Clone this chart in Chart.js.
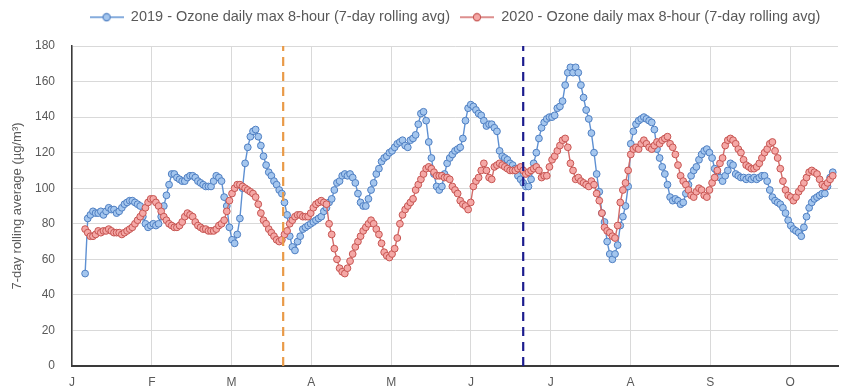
<!DOCTYPE html>
<html>
<head>
<meta charset="utf-8">
<script src="https://cdn.jsdelivr.net/npm/chart.js@4.4.1/dist/chart.umd.min.js"></script>
<style>
html,body{margin:0;padding:0;background:#ffffff;}
#c{display:block;}
</style>
</head>
<body>
<canvas id="c" width="844" height="391"></canvas>
<script>
// ---------- DATA ----------
const seriesNames = [
  '2019 - Ozone daily max 8-hour (7-day rolling avg)',
  '2020 - Ozone daily max 8-hour (7-day rolling avg)'
];
const yAxisTitle = '7-day rolling average (\u00B5g/m\u00B3)';
const monthLabels = ['J','F','M','A','M','J','J','A','S','O'];
const firstDay = 5;            // day-of-year index (Jan 1 = 0) of first value
const eventDays = [80.5, 172]; // dashed reference lines (orange, navy)

const ozone2019 = [
  52,83,85,87,86,86,87,85,87,89,
  88,88,86,87,89,91,92,93,93,92,
  91,90,84,80,78,79,80,79,80,84,
  90,96,102,108,108,106,105,104,104,106,
  107,107,106,104,103,102,101,101,101,104,
  107,106,104,95,90,78,71,69,74,83,
  100,114,123,129,132,133,129,124,118,113,
  109,107,104,102,99,97,92,85,73,67,
  65,70,73,77,78,79,80,81,82,83,
  84,87,89,92,94,99,103,104,107,108,
  107,108,106,103,97,92,90,90,94,99,
  103,108,111,115,117,118,120,121,123,125,
  126,127,124,123,127,128,130,136,142,143,
  138,126,117,108,101,99,101,108,114,117,
  119,121,122,123,128,138,145,147,146,144,
  142,141,138,135,136,136,134,132,121,118,
  117,116,114,113,111,107,105,103,101,101,
  105,114,120,128,134,137,139,140,140,141,
  145,146,149,158,165,168,165,168,165,158,
  151,144,139,131,120,108,98,86,81,70,
  63,60,63,68,79,84,90,101,125,132,
  136,138,139,140,139,138,137,133,122,117,
  112,108,102,95,93,94,93,91,92,97,
  102,107,110,112,116,119,121,122,120,117,
  111,109,106,104,107,110,114,113,108,107,
  106,106,105,106,105,106,105,106,107,107,
  104,99,95,93,92,91,89,86,82,79,
  77,76,75,73,78,84,89,92,94,95,
  96,97,97,101,106,109
];

const ozone2020 = [
  77,75,73,73,74,76,75,76,76,77,
  76,75,75,75,74,75,76,77,78,80,
  82,84,86,89,92,94,94,92,90,87,
  84,82,80,79,78,78,79,81,84,86,
  85,84,81,79,78,77,77,76,76,76,
  77,79,80,82,87,93,97,100,102,102,
  101,100,99,98,97,95,91,86,82,80,
  77,75,73,71,70,71,74,76,80,82,
  84,85,85,84,84,84,86,89,91,92,
  93,92,91,80,74,66,60,55,53,52,
  55,59,63,67,70,73,76,78,80,82,
  80,77,74,69,64,62,61,63,66,72,
  80,85,88,90,92,94,99,102,105,108,
  111,112,111,109,107,107,107,106,106,105,
  101,99,97,93,91,90,88,92,101,104,
  106,110,114,110,106,105,112,113,114,113,
  112,111,110,110,110,111,112,110,108,109,
  110,111,112,110,106,107,107,112,116,118,
  121,124,127,128,123,114,110,105,106,104,
  103,102,101,104,102,97,93,86,78,76,
  75,73,72,79,92,99,103,110,119,122,
  123,122,125,127,125,123,122,124,126,125,
  127,128,129,125,123,119,113,107,104,102,
  99,96,95,98,100,99,96,95,99,103,
  106,110,114,117,124,127,128,127,125,122,
  120,116,113,112,111,111,112,114,117,120,
  122,125,126,121,117,111,104,99,96,95,
  93,95,98,100,103,106,109,110,109,108,
  105,102,101,103,105,107
];

// ---------- STYLE ----------
const FONT = '"Liberation Sans", Arial, sans-serif';
const TXT = '#595959';
const BLUE_LINE = '#5E90D2', BLUE_FILL = '#A4C6EE', BLUE_EDGE = '#4F7FC2';
const RED_LINE = '#D26A68', RED_FILL = '#F5A8A6', RED_EDGE = '#C65552';
const ORANGE = '#E99A48', NAVY = '#1C1C8E';

Chart.defaults.font.family = FONT;
Chart.defaults.color = TXT;

function toPoints(arr) { return arr.map((v, i) => ({ x: firstDay + i, y: v })); }

function legendIcon(line, fill, edge) {
  const c = document.createElement('canvas');
  c.width = 34; c.height = 10;
  const g = c.getContext('2d');
  g.strokeStyle = line; g.lineWidth = 1.6;
  g.beginPath(); g.moveTo(0, 5); g.lineTo(34, 5); g.stroke();
  g.beginPath(); g.arc(17, 5, 3.6, 0, Math.PI * 2);
  g.fillStyle = fill; g.fill();
  g.lineWidth = 1.1; g.strokeStyle = edge; g.stroke();
  return c;
}
const icons = [legendIcon(BLUE_LINE, BLUE_FILL, BLUE_EDGE), legendIcon(RED_LINE, RED_FILL, RED_EDGE)];

const legendSpacer = {
  id: 'legendSpacer',
  beforeInit(chart) {
    const lg = chart.legend;
    const orig = lg.fit;
    lg.fit = function () { orig.call(this); this.height = 46; };
  }
};

function eventLine(day, color) {
  return {
    type: 'line',
    data: [{ x: day, y: 0 }, { x: day, y: 180 }],
    borderColor: color, borderWidth: 2.2, borderDash: [9, 6],
    pointRadius: 0, pointHoverRadius: 0, fill: false, order: 0
  };
}

new Chart(document.getElementById('c'), {
  type: 'line',
  data: {
    datasets: [
      {
        label: seriesNames[0], data: toPoints(ozone2019),
        borderColor: BLUE_LINE, borderWidth: 1.4,
        pointRadius: 3.4, pointBorderWidth: 1, pointBackgroundColor: BLUE_FILL, pointBorderColor: BLUE_EDGE,
        tension: 0, fill: false, order: 2
      },
      {
        label: seriesNames[1], data: toPoints(ozone2020),
        borderColor: RED_LINE, borderWidth: 1.4,
        pointRadius: 3.4, pointBorderWidth: 1, pointBackgroundColor: RED_FILL, pointBorderColor: RED_EDGE,
        tension: 0, fill: false, order: 1
      },
      eventLine(eventDays[0], ORANGE),
      eventLine(eventDays[1], NAVY)
    ]
  },
  options: {
    responsive: false,
    animation: false,
    devicePixelRatio: 1,
    layout: { padding: { top: 0, left: 0, right: 6, bottom: 0 } },
    plugins: {
      tooltip: { enabled: false },
      legend: {
        position: 'top',
        fullSize: false,
        align: 'center',
        labels: {
          usePointStyle: true,
          pointStyleWidth: 34,
          padding: 10,
          font: { size: 14.5, family: FONT },
          color: TXT,
          generateLabels: () => seriesNames.map((t, i) => ({
            text: t, pointStyle: icons[i], datasetIndex: i, hidden: false,
            fillStyle: 'rgba(0,0,0,0)', strokeStyle: 'rgba(0,0,0,0)', lineWidth: 0, fontColor: TXT
          }))
        }
      }
    },
    scales: {
      x: {
        type: 'linear',
        min: 0,
        max: 292,
        afterBuildTicks: (scale) => { scale.ticks = monthLabels.map((_, i) => ({ value: i * 365 / 12 })); },
        afterFit: (scale) => { scale.height = 25; },
        ticks: {
          autoSkip: false, maxRotation: 0, padding: 9,
          font: { size: 12 }, color: TXT,
          callback: (v, i) => monthLabels[i]
        },
        grid: { color: '#D9D9D9', lineWidth: 1, drawTicks: false },
        border: { display: true, color: '#3A3A3A', width: 2 }
      },
      y: {
        min: 0, max: 180,
        afterFit: (scale) => { scale.width = 72; },
        ticks: { stepSize: 20, padding: 17, font: { size: 12 }, color: TXT },
        grid: { color: '#D9D9D9', lineWidth: 1, drawTicks: false },
        border: { display: true, color: '#3A3A3A', width: 1.5 },
        title: { display: true, text: yAxisTitle, color: TXT, font: { size: 13 }, padding: { top: 10, bottom: 0 } }
      }
    }
  },
  plugins: [legendSpacer]
});
</script>
</body>
</html>
